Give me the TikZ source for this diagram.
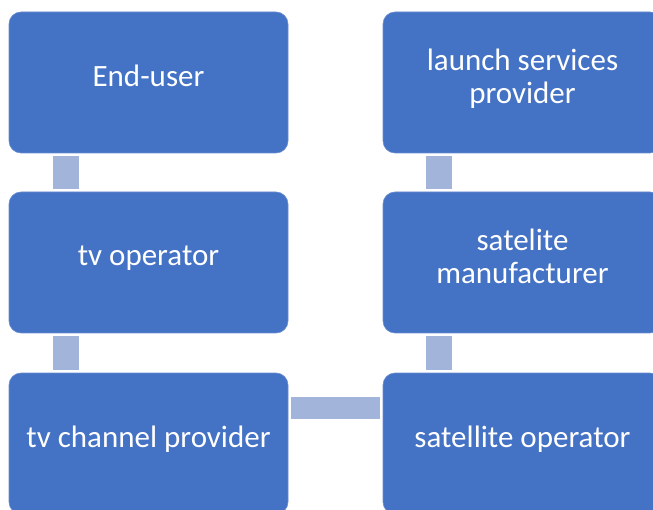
\documentclass[tikz,border=0pt]{standalone}
\usepackage{fontspec}
\setmainfont{Carlito}
\definecolor{boxblue}{HTML}{4472C4}
\definecolor{linkblue}{HTML}{A2B4DA}

\begin{document}
\begin{tikzpicture}[
            x = 1pt, y = -1pt, % pixel-like units, y going down
            stage/.style = {
                rectangle,
                rounded corners = 12pt,
                fill = boxblue,
                draw = boxblue!80!white,
                line width = 0.6pt,
                minimum width = 279pt,
                minimum height = 141pt,
                text = white,
                text depth = 13pt, % lifts the text a little, as in the original
                align = center,
                font = \fontsize{31}{33}\selectfont
            },
            link/.style = {
                draw = linkblue,
                line width = 26pt,
                shorten > = 3pt, % keep a small gap to the boxes
                shorten < = 3pt
            }
        ]

        \useasboundingbox (0,0) rectangle (653,510);
        \clip (0,0) rectangle (653,510);

        \node (eu) [stage] at (148.5,82.5) {End-user};
        \node (tvop) [stage] at (148.5,262.5) {tv operator};
        \node (tvch) [stage] at (148.5,443.5) {tv channel provider};
        \node (lsp) [stage] at (522.5,82.5) {launch services\\provider};
        \node (sman) [stage] at (522.5,262.5) {satelite\\manufacturer};
        \node (satop) [stage] at (522.5,443.5) {satellite operator};

        \draw[link] ([xshift=57pt]eu.south west) -- ([xshift=57pt]tvop.north west);
        \draw[link] ([xshift=57pt]tvop.south west) -- ([xshift=57pt]tvch.north west);
        \draw[link] ([xshift=56pt]lsp.south west) -- ([xshift=56pt]sman.north west);
        \draw[link] ([xshift=56pt]sman.south west) -- ([xshift=56pt]satop.north west);
        \draw[link, line width=22pt] ([yshift=35.5pt]tvch.east) -- ([yshift=35.5pt]satop.west);

    \end{tikzpicture}
\end{document}
